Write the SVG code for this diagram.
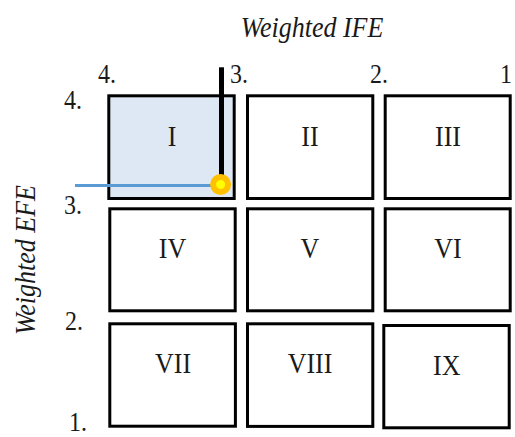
<svg xmlns="http://www.w3.org/2000/svg" width="515" height="437" viewBox="0 0 515 437">
<style>
.box{fill:#ffffff;stroke:#000000;stroke-width:3}
.hl{fill:#dee8f4}
.num{font-family:"Liberation Serif","Times New Roman",serif;font-size:26px;fill:#1a1a1a;text-anchor:middle}
.ax{font-family:"Liberation Serif","Times New Roman",serif;font-size:24px;fill:#1a1a1a}
.title{font-family:"Liberation Serif","Times New Roman",serif;font-size:26px;font-style:italic;fill:#1a1a1a;text-anchor:middle}
</style>
<rect width="515" height="437" fill="#ffffff"/>
<g id="labels">
<text class="title" transform="translate(312,36.7) scale(1,1.12)">Weighted IFE</text>
<text class="title" transform="translate(35,260) rotate(-90) scale(1,1.12)">Weighted EFE</text>
<text class="ax" transform="translate(98,83.3) scale(1,1.12)">4.</text>
<text class="ax" transform="translate(230,83.3) scale(1,1.12)">3.</text>
<text class="ax" transform="translate(370,83.3) scale(1,1.12)">2.</text>
<text class="ax" transform="translate(500,83.3) scale(1,1.12)">1</text>
<text class="ax" transform="translate(64,109) scale(1,1.12)">4.</text>
<text class="ax" transform="translate(64,214) scale(1,1.12)">3.</text>
<text class="ax" transform="translate(65,330) scale(1,1.12)">2.</text>
<text class="ax" transform="translate(69,431) scale(1,1.1)">1.</text>
</g>
<g id="cell-I"><rect class="box hl" x="108.8" y="95.8" width="125.4" height="102.7"/><text class="num" transform="translate(172,145.7) scale(1,1.12)">I</text></g>
<g id="cell-II"><rect class="box" x="247.5" y="95.8" width="125.3" height="102.7"/><text class="num" transform="translate(310,145.7) scale(1,1.12)">II</text></g>
<g id="cell-III"><rect class="box" x="385.2" y="95.8" width="125" height="102.7"/><text class="num" transform="translate(448,145.7) scale(1,1.12)">III</text></g>
<g id="cell-IV"><rect class="box" x="109.8" y="208.8" width="125.4" height="102"/><text class="num" transform="translate(172.5,258) scale(1,1.12)">IV</text></g>
<g id="cell-V"><rect class="box" x="247.5" y="208.8" width="125.3" height="102"/><text class="num" transform="translate(310,258) scale(1,1.12)">V</text></g>
<g id="cell-VI"><rect class="box" x="385.2" y="208.8" width="125" height="102"/><text class="num" transform="translate(448,258) scale(1,1.12)">VI</text></g>
<g id="cell-VII"><rect class="box" x="109.8" y="323.8" width="125.6" height="102.4"/><text class="num" transform="translate(173,373) scale(1,1.12)">VII</text></g>
<g id="cell-VIII"><rect class="box" x="247.5" y="323.8" width="125.3" height="102.6"/><text class="num" transform="translate(310,373) scale(1,1.12)">VIII</text></g>
<g id="cell-IX"><rect class="box" x="383.8" y="325.5" width="125.4" height="102.3"/><text class="num" transform="translate(446.7,375) scale(1,1.12)">IX</text></g>
<g id="connectors">
<line x1="221.5" y1="67.3" x2="221.5" y2="185" stroke="#000000" stroke-width="5"/>
<line x1="75" y1="185.6" x2="215" y2="185.6" stroke="#5b9bd5" stroke-width="3"/>
<circle cx="220.6" cy="184.5" r="7.5" fill="#ffff00" stroke="#ffc000" stroke-width="6"/>
</g>
</svg>
